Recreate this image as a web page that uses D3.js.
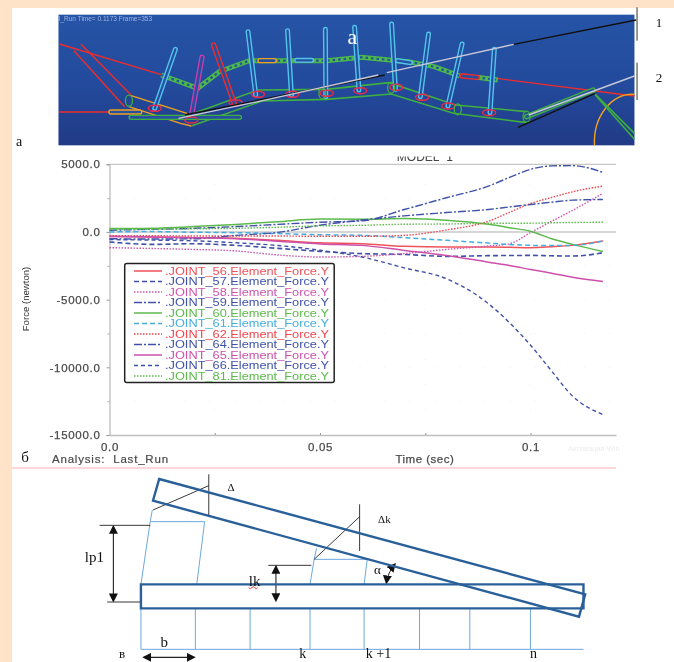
<!DOCTYPE html>
<html>
<head>
<meta charset="utf-8">
<script src="https://cdn.jsdelivr.net/npm/d3@7"></script>
<style>
  html, body { margin: 0; padding: 0; background: #fff; }
  svg { display: block; filter: blur(0.45px); }
  text { font-family: "Liberation Sans", Arial, sans-serif; }
  .serif { font-family: "Liberation Serif", "Times New Roman", serif; fill: #111; }
</style>
</head>
<body>
<div id="chart"></div>
<script>
// force curves, newton
const TIME = [0, 0.01, 0.02, 0.03, 0.04, 0.05, 0.06, 0.07, 0.08, 0.09, 0.095, 0.1, 0.105, 0.11, 0.1172];
const J56 = [-320, -380, -420, -470, -620, -800, -870, -1060, -1110, -1110, -1130, -1160, -1090, -990, -670];
const J57 = [-740, -915, -870, -990, -1210, -1430, -1600, -1660, -1800, -1750, -1740, -1730, -1760, -1780, -1530];
const J58 = [-1160, -1220, -1290, -1400, -1700, -1850, -1800, -1600, -1290, -1040, -870, -50, 790, 1600, 2850];
const J59 = [130, 200, 270, 400, 560, 720, 820, 1660, 2525, 3390, 4030, 4630, 4880, 4900, 4400];
const J60 = [250, 280, 400, 560, 760, 950, 940, 990, 870, 570, 320, 50, -500, -915, -1435];
const J61 = [0, 30, -20, -50, -120, -200, -250, -420, -620, -820, -920, -990, -1000, -990, -670];
const J62 = [-280, -280, -300, -300, -300, -320, -320, -250, 150, 790, 1450, 2100, 2550, 2970, 3390];
const J64 = [-500, -520, -500, -250, -30, 500, 880, 1190, 1435, 1660, 1850, 2030, 2200, 2350, 2400];
const J65 = [-330, -370, -420, -500, -680, -880, -990, -1360, -1730, -2230, -2480, -2770, -3050, -3340, -3660];
const J66 = [-560, -600, -650, -800, -1000, -1350, -1850, -2650, -3450, -5300, -6700, -8365, -10270, -12130, -13490];
const J81 = [180, 200, 230, 270, 350, 450, 495, 570, 590, 640, 650, 650, 680, 700, 720];

const SERIES_NAMES = [".JOINT_56.Element_Force.Y", ".JOINT_57.Element_Force.Y", ".JOINT_58.Element_Force.Y",
  ".JOINT_59.Element_Force.Y", ".JOINT_60.Element_Force.Y", ".JOINT_61.Element_Force.Y", ".JOINT_62.Element_Force.Y",
  ".JOINT_64.Element_Force.Y", ".JOINT_65.Element_Force.Y", ".JOINT_66.Element_Force.Y", ".JOINT_81.Element_Force.Y"];
const SERIES_VALUES = [J56, J57, J58, J59, J60, J61, J62, J64, J65, J66, J81];
const SERIES_COLORS = ["#f0525a", "#3f52a8", "#cc55b0", "#3f52a8", "#5cba4c", "#45aedd", "#f0464e", "#3f52a8", "#cc50ac", "#3f52a8", "#5cba4c"];
const SERIES_DASH = ["none", "5,3", "1.5,1.5", "8,2,2,2", "none", "5,3", "1.5,1.5", "8,2,2,2", "none", "4,3", "1.5,1.5"];
const SERIES_WIDTH = [1.5, 1.6, 1.4, 1.4, 1.5, 1.5, 1.4, 1.4, 1.5, 1.4, 1.4];

const Y_TICKS = [5000, 0, -5000, -10000, -15000];
const Y_LABELS = ["5000.0", "0.0", "-5000.0", "-10000.0", "-15000.0"];
const Y_MINOR = [2500, -2500, -7500, -12500];
const X_TICKS = [0, 0.05, 0.1];
const X_MINOR = [0.025, 0.075];
const X_LABELS = ["0.0", "0.05", "0.1"];

const WIDTH = 674, HEIGHT = 662;
const PEACH = "#ffe3c9";

let svg = d3.select("#chart").append("svg")
  .attr("width", WIDTH).attr("height", HEIGHT);

// page background, peach strip on top and left
svg.append("rect").attr("width", WIDTH).attr("height", 8).attr("fill", PEACH);
svg.append("rect").attr("width", 12).attr("height", HEIGHT).attr("fill", PEACH);

const X = d3.scaleLinear().domain([0, 0.1203]).range([109.5, 616]);
const Y = d3.scaleLinear().domain([-15000, 5000]).range([435, 164.3]);

// ---------- panel b, the plot ----------
let plot = svg.append("g");

// title is cut by the picture above it
svg.append("clipPath").attr("id", "titleClip").append("rect")
  .attr("x", 340).attr("y", 156.5).attr("width", 170).attr("height", 6);
plot.append("text").attr("x", X(0.0749)).attr("y", 160.5).attr("text-anchor", "middle")
  .attr("clip-path", "url(#titleClip)").attr("font-size", 12).attr("fill", "#444").text("MODEL_1");

// faint grid
plot.selectAll(".gy").data(Y_MINOR.concat(Y_TICKS.slice(2, 4))).enter().append("line")
  .attr("x1", X.range()[0]).attr("x2", X.range()[1]).attr("y1", d => Y(d)).attr("y2", d => Y(d))
  .attr("stroke", "#e4e4e4").attr("stroke-width", 0.6).attr("stroke-dasharray", "1,24");
plot.selectAll(".gx").data(X_MINOR.concat(X_TICKS.slice(1))).enter().append("line")
  .attr("y1", Y.range()[0]).attr("y2", Y.range()[1]).attr("x1", d => X(d)).attr("x2", d => X(d))
  .attr("stroke", "#e4e4e4").attr("stroke-width", 0.6).attr("stroke-dasharray", "1,24");

// top edge and zero line
plot.append("line").attr("x1", X.range()[0]).attr("x2", X.range()[1]).attr("y1", Y(5000)).attr("y2", Y(5000))
  .attr("stroke", "#b0b0b0").attr("stroke-width", 0.9);
plot.append("line").attr("x1", X.range()[0]).attr("x2", X.range()[1]).attr("y1", Y(0)).attr("y2", Y(0))
  .attr("stroke", "#c8c8c8").attr("stroke-width", 1.6);

let axisLeft = plot.append("g").attr("transform", "translate(" + X.range()[0] + ",0)")
  .call(d3.axisLeft(Y).tickValues(Y_TICKS).tickSize(3).tickPadding(6).tickFormat((d, i) => Y_LABELS[i]));
let axisBottom = plot.append("g").attr("transform", "translate(0," + Y.range()[0] + ")")
  .call(d3.axisBottom(X).tickValues(X_TICKS).tickSize(0).tickPadding(8).tickFormat((d, i) => X_LABELS[i]));
plot.append("g").attr("transform", "translate(" + X.range()[0] + ",0)")
  .call(d3.axisLeft(Y).tickValues(Y_MINOR).tickSize(2).tickFormat(""))
  .call(g => g.select(".domain").remove()).selectAll("line").attr("stroke", "#aaa");
plot.append("g").attr("transform", "translate(0," + Y.range()[0] + ")")
  .call(d3.axisTop(X).tickValues(X_MINOR.concat(X_TICKS.slice(1))).tickSize(2).tickFormat(""))
  .call(g => g.select(".domain").remove()).selectAll("line").attr("stroke", "#999");

axisLeft.select(".domain").attr("stroke", "#aaa").attr("stroke-width", 1);
axisBottom.select(".domain").attr("stroke", "#c0c0c0").attr("stroke-width", 1.6);
axisLeft.selectAll("line").attr("stroke", "#999");
[axisLeft, axisBottom].forEach(g => g.selectAll("text")
  .attr("font-family", "Liberation Sans").attr("font-size", 11.5).attr("letter-spacing", 0.7)
  .attr("stroke", "#555").attr("stroke-width", 0.25).attr("fill", "#444"));

plot.append("text").attr("transform", "translate(29,299) rotate(-90)").attr("text-anchor", "middle")
  .attr("font-size", 9.6).attr("fill", "#333").text("Force (newton)");
plot.append("text").attr("x", X(0.0749)).attr("y", 463).attr("text-anchor", "middle")
  .attr("font-size", 11.5).attr("letter-spacing", 0.5).attr("fill", "#444")
  .attr("stroke", "#555").attr("stroke-width", 0.25).text("Time (sec)");
plot.append("text").attr("x", 52).attr("y", 463)
  .attr("font-size", 11.5).attr("letter-spacing", 0.8).attr("fill", "#444")
  .attr("stroke", "#555").attr("stroke-width", 0.2).attr("xml:space", "preserve").text("Analysis:  Last_Run");
// faint system watermark in the corner
plot.append("text").attr("x", 568).attr("y", 451).attr("font-size", 7.5).attr("fill", "#ececec").text("Активация Win");

// curves
let line = d3.line().x((d, i) => X(TIME[i])).y(d => Y(d)).curve(d3.curveMonotoneX);
plot.selectAll(".curve").data(SERIES_VALUES).enter().append("path")
  .attr("class", "curve").attr("d", line).attr("fill", "none")
  .attr("stroke", (d, i) => SERIES_COLORS[i])
  .attr("stroke-dasharray", (d, i) => SERIES_DASH[i])
  .attr("stroke-width", (d, i) => SERIES_WIDTH[i]);

// legend
let legend = plot.append("g");
legend.append("rect").attr("x", 124.7).attr("y", 263.5).attr("width", 209.5).attr("height", 119)
  .attr("rx", 2).attr("fill", "#fff").attr("stroke", "#222").attr("stroke-width", 1.5);
let rows = legend.selectAll(".row").data(SERIES_NAMES).enter().append("g")
  .attr("transform", (d, i) => "translate(0," + (271 + i * 10.5) + ")");
rows.append("line").attr("x1", 134).attr("x2", 162)
  .attr("stroke", (d, i) => SERIES_COLORS[i])
  .attr("stroke-dasharray", (d, i) => SERIES_DASH[i])
  .attr("stroke-width", (d, i) => SERIES_WIDTH[i]);
rows.append("text").attr("x", 165).attr("y", 3.8).attr("font-size", 10)
  .attr("textLength", 164).attr("lengthAdjust", "spacingAndGlyphs")
  .attr("fill", (d, i) => SERIES_COLORS[i]).text(d => d);

// divider under panel b
svg.append("line").attr("x1", 12).attr("x2", 616).attr("y1", 468).attr("y2", 468)
  .attr("stroke", "#ffb4b4").attr("stroke-width", 1.2);

// ---------- panel a, the mechanism model ----------
// shapes are in the crop's own grid, the scales put them on the page
const AX = d3.scaleLinear().domain([0, 1568]).range([0, 674]);
const AY = d3.scaleLinear().domain([0, 480]).range([0, 160]);

const RED_LINES = [
  [[138, 132], [375, 224]], [[1075, 222], [1476, 288]], [[138, 336], [300, 336]],
  [[172, 152], [290, 320]], [[188, 132], [305, 285]]];
const ORANGE_LINES = [
  [[305, 287], [435, 340]], [[300, 320], [420, 370], [445, 378]]];
const GREEN_LINES = [
  [[440, 345], [600, 270], [760, 268], [905, 248], [1060, 315], [1225, 335]],
  [[445, 378], [610, 303], [760, 298], [910, 282], [1055, 340], [1225, 368]],
  [[1375, 270], [1476, 400]], [[1385, 285], [1476, 418]]];
const GREEN_CHAINS = [
  [[375, 225], [460, 265], [510, 215], [580, 182], [690, 182], [760, 182], [840, 172], [950, 185], [1010, 200], [1070, 228]],
  [[1110, 232], [1158, 240]]];
const CYAN_CAPS = [
  [[360, 325], [408, 148]], [[595, 285], [577, 95]], [[678, 285], [669, 92]], [[758, 290], [757, 88]],
  [[835, 270], [825, 82]], [[920, 268], [911, 72]], [[978, 290], [997, 102]], [[1042, 318], [1075, 132]],
  [[1140, 338], [1150, 148]], [[690, 181], [725, 181]], [[925, 182], [955, 188]]];
const OTHER_CAPS = [
  { c: "#c83cb0", p: [[445, 350], [470, 172]] }, { c: "#ee2c2c", p: [[545, 310], [497, 135]] },
  { c: "#f0a020", p: [[605, 182], [638, 182]] }, { c: "#ee2c2c", p: [[1075, 228], [1110, 232]] },
  { c: "#f0a020", p: [[258, 336], [325, 336]] }, { c: "#3fb03f", p: [[305, 352], [557, 352]] },
  { c: "#3fb03f", p: [[1225, 350], [1380, 270]] }];
const RED_JOINTS = [[360, 325], [445, 360], [548, 308], [600, 283], [680, 283], [760, 280], [838, 272], [922, 262], [982, 292], [1043, 318], [1138, 338]];
const GREEN_JOINTS = [[750, 280], [910, 263], [1065, 328], [1225, 350], [300, 302]];
const DARK_ROPE = [[[430, 345], [895, 225]], [[1195, 133], [1480, 60]], [[1205, 382], [1385, 280]]];
const PALE_ROPE = [[[415, 355], [600, 305], [880, 225]], [[900, 218], [1195, 133]], [[1230, 345], [1476, 228]]];
const MARK_LINES = [[[1482, 22], [1482, 122]], [[1482, 188], [1482, 300]]];

let aLine = d3.line().x(d => AX(d[0])).y(d => AY(d[1]));

let defs = svg.append("defs");
let grad = defs.append("linearGradient").attr("id", "panelBlue").attr("x1", 0).attr("x2", 0).attr("y1", 0).attr("y2", 1);
grad.append("stop").attr("offset", "0%").attr("stop-color", "#2654a6");
grad.append("stop").attr("offset", "55%").attr("stop-color", "#234a9c");
grad.append("stop").attr("offset", "100%").attr("stop-color", "#213a86");

let panel = svg.append("g");
panel.append("rect").attr("x", AX(136)).attr("y", AY(44))
  .attr("width", AX(1476) - AX(136)).attr("height", AY(436) - AY(44)).attr("fill", "url(#panelBlue)");

panel.selectAll(".red").data(RED_LINES).enter().append("path").attr("d", aLine)
  .attr("fill", "none").attr("stroke", "#ee2c2c").attr("stroke-width", 1.4);
panel.selectAll(".orange").data(ORANGE_LINES).enter().append("path").attr("d", aLine)
  .attr("fill", "none").attr("stroke", "#f0a020").attr("stroke-width", 1.4);
// orange arc bottom right
panel.append("path").attr("d", "M" + AX(1383) + "," + AY(436) + "A38,48 0 0 1 " + AX(1476) + "," + AY(283))
  .attr("fill", "none").attr("stroke", "#f0a020").attr("stroke-width", 1.4);
panel.selectAll(".green").data(GREEN_LINES).enter().append("path").attr("d", aLine)
  .attr("fill", "none").attr("stroke", "#3fb03f").attr("stroke-width", 1.6);

// chain: thick green with dark links
panel.selectAll(".chain").data(GREEN_CHAINS).enter().append("path").attr("d", aLine)
  .attr("fill", "none").attr("stroke", "#4cb84a").attr("stroke-width", 5);
panel.selectAll(".chainIn").data(GREEN_CHAINS).enter().append("path").attr("d", aLine)
  .attr("fill", "none").attr("stroke", "#24509f").attr("stroke-width", 2.2).attr("stroke-dasharray", "2.5,3");

function capsule(pts, color, w) {
  panel.append("path").attr("d", aLine(pts)).attr("fill", "none").attr("stroke", color)
    .attr("stroke-width", w).attr("stroke-linecap", "round");
  panel.append("path").attr("d", aLine(pts)).attr("fill", "none").attr("stroke", "#24509f")
    .attr("stroke-width", w - 2.8).attr("stroke-linecap", "round");
}
CYAN_CAPS.forEach(p => capsule(p, "#52c4ec", 5));
OTHER_CAPS.forEach(d => capsule(d.p, d.c, 5.4));

panel.selectAll(".rj").data(RED_JOINTS).enter().append("ellipse")
  .attr("cx", d => AX(d[0])).attr("cy", d => AY(d[1])).attr("rx", 6.5).attr("ry", 3)
  .attr("fill", "none").attr("stroke", "#e82a4a").attr("stroke-width", 1.5);
panel.selectAll(".gj").data(GREEN_JOINTS).enter().append("ellipse")
  .attr("cx", d => AX(d[0])).attr("cy", d => AY(d[1])).attr("rx", 3.5).attr("ry", 5.5)
  .attr("fill", "none").attr("stroke", "#3fb03f").attr("stroke-width", 1.3);

panel.selectAll(".dark").data(DARK_ROPE).enter().append("path").attr("d", aLine)
  .attr("stroke", "#111").attr("stroke-width", 1.4).attr("fill", "none");
panel.selectAll(".pale").data(PALE_ROPE).enter().append("path").attr("d", aLine)
  .attr("stroke", "#c8c8d8").attr("stroke-width", 1.4).attr("fill", "none");
panel.selectAll(".mark").data(MARK_LINES).enter().append("path").attr("d", aLine)
  .attr("stroke", "#333").attr("stroke-width", 1).attr("fill", "none");

panel.append("text").attr("x", 59).attr("y", 21).attr("font-size", 6.5)
  .attr("fill", "#9fb4de").text("l_Run   Time= 0.1173  Frame=353");
panel.append("text").attr("class", "serif").attr("x", AX(820)).attr("y", 44).attr("text-anchor", "middle")
  .attr("font-size", 22).style("fill", "#fff").text("a");
panel.append("text").attr("class", "serif").attr("x", 659).attr("y", 27).attr("text-anchor", "middle")
  .attr("font-size", 13).text("1");
panel.append("text").attr("class", "serif").attr("x", 659).attr("y", 82).attr("text-anchor", "middle")
  .attr("font-size", 13).text("2");
panel.append("text").attr("class", "serif").attr("x", 19).attr("y", 146).attr("text-anchor", "middle")
  .attr("font-size", 14).text("а");
svg.append("text").attr("class", "serif").attr("x", 25).attr("y", 462).attr("text-anchor", "middle")
  .attr("font-size", 15).text("б");

// ---------- panel c, the lever sketch ----------
const CX = d3.scaleLinear().domain([0, 1568]).range([60, 600]);
const CY = d3.scaleLinear().domain([0, 591]).range([465, 662]);
const BLUE_DARK = "#2a6099", BLUE_THIN = "#6da8de";

const TILTED_BAR = [[288, 42], [1525, 388], [1507, 455], [270, 107], [288, 42]];
const BASE_BAR = [[235, 358], [1520, 358], [1520, 430], [235, 430], [235, 358]];
const THIN_BLUE = [
  [[235, 553], [1520, 553]],
  [[235, 358], [262, 170], [420, 170], [397, 358]], [[262, 170], [268, 135]],
  [[726, 358], [738, 283], [892, 283], [883, 358]], [[738, 283], [745, 250]]];
const STATION_X = [235, 393, 552, 726, 883, 1044, 1190, 1366];
const THIN_BLACK = [
  [[270, 135], [432, 62]], [[432, 28], [432, 150]],
  [[738, 283], [870, 155]], [[870, 118], [870, 258]],
  [[115, 181], [262, 181]], [[137, 411], [235, 411]], [[605, 301], [730, 301]]];
const ARROWS = [
  [[155, 185], [155, 407]], [[627, 305], [627, 406]], [[244, 577], [389, 577]]];
const SKETCH_LABELS = [
  { t: "Δ", x: 497, y: 78, s: 11 }, { t: "Δk", x: 942, y: 173, s: 11 }, { t: "lp1", x: 100, y: 292, s: 15 },
  { t: "lk", x: 565, y: 362, s: 15 }, { t: "α", x: 922, y: 328, s: 13 }, { t: "b", x: 303, y: 545, s: 15 },
  { t: "в", x: 180, y: 578, s: 13 }, { t: "k", x: 705, y: 578, s: 14 }, { t: "k +1", x: 925, y: 578, s: 14 },
  { t: "n", x: 1375, y: 578, s: 14 }];

let cLine = d3.line().x(d => CX(d[0])).y(d => CY(d[1]));
let sketch = svg.append("g");

let marker = defs.append("marker").attr("id", "head").attr("viewBox", "0 0 10 10")
  .attr("refX", 8).attr("refY", 5).attr("markerWidth", 9).attr("markerHeight", 9)
  .attr("markerUnits", "userSpaceOnUse").attr("orient", "auto-start-reverse");
marker.append("path").attr("d", "M0,0L10,5L0,10Z").attr("fill", "#111");

sketch.selectAll(".station").data(STATION_X).enter().append("line")
  .attr("x1", d => CX(d)).attr("x2", d => CX(d)).attr("y1", CY(430)).attr("y2", CY(553))
  .attr("stroke", BLUE_THIN).attr("stroke-width", 1);
sketch.selectAll(".thin").data(THIN_BLUE).enter().append("path").attr("d", cLine)
  .attr("fill", "none").attr("stroke", BLUE_THIN).attr("stroke-width", 1);
sketch.selectAll(".black").data(THIN_BLACK).enter().append("path").attr("d", cLine)
  .attr("fill", "none").attr("stroke", "#222").attr("stroke-width", 0.9);
sketch.selectAll(".arrow").data(ARROWS).enter().append("path").attr("d", cLine)
  .attr("fill", "none").attr("stroke", "#222").attr("stroke-width", 1.1)
  .attr("marker-start", "url(#head)").attr("marker-end", "url(#head)");
sketch.append("path").attr("d", "M" + CX(948) + "," + CY(353) + "Q" + CX(952) + "," + CY(322) + " " + CX(972) + "," + CY(298))
  .attr("fill", "none").attr("stroke", "#222").attr("stroke-width", 1)
  .attr("marker-start", "url(#head)").attr("marker-end", "url(#head)");

sketch.selectAll(".bar").data([BASE_BAR, TILTED_BAR]).enter().append("path").attr("d", d => cLine(d) + "Z")
  .attr("fill", "none").attr("stroke", BLUE_DARK).attr("stroke-width", 2.4);

sketch.selectAll(".lab").data(SKETCH_LABELS).enter().append("text").attr("class", "serif")
  .attr("x", d => CX(d.x)).attr("y", d => CY(d.y)).attr("text-anchor", "middle")
  .attr("font-size", d => d.s).text(d => d.t);
// spell check squiggle under lk
sketch.append("path").attr("d", "M" + CX(548) + "," + CY(368) + "q1.5,2 3,0t3,0t3,0")
  .attr("fill", "none").attr("stroke", "#e03030").attr("stroke-width", 0.9);
</script>
</body>
</html>
